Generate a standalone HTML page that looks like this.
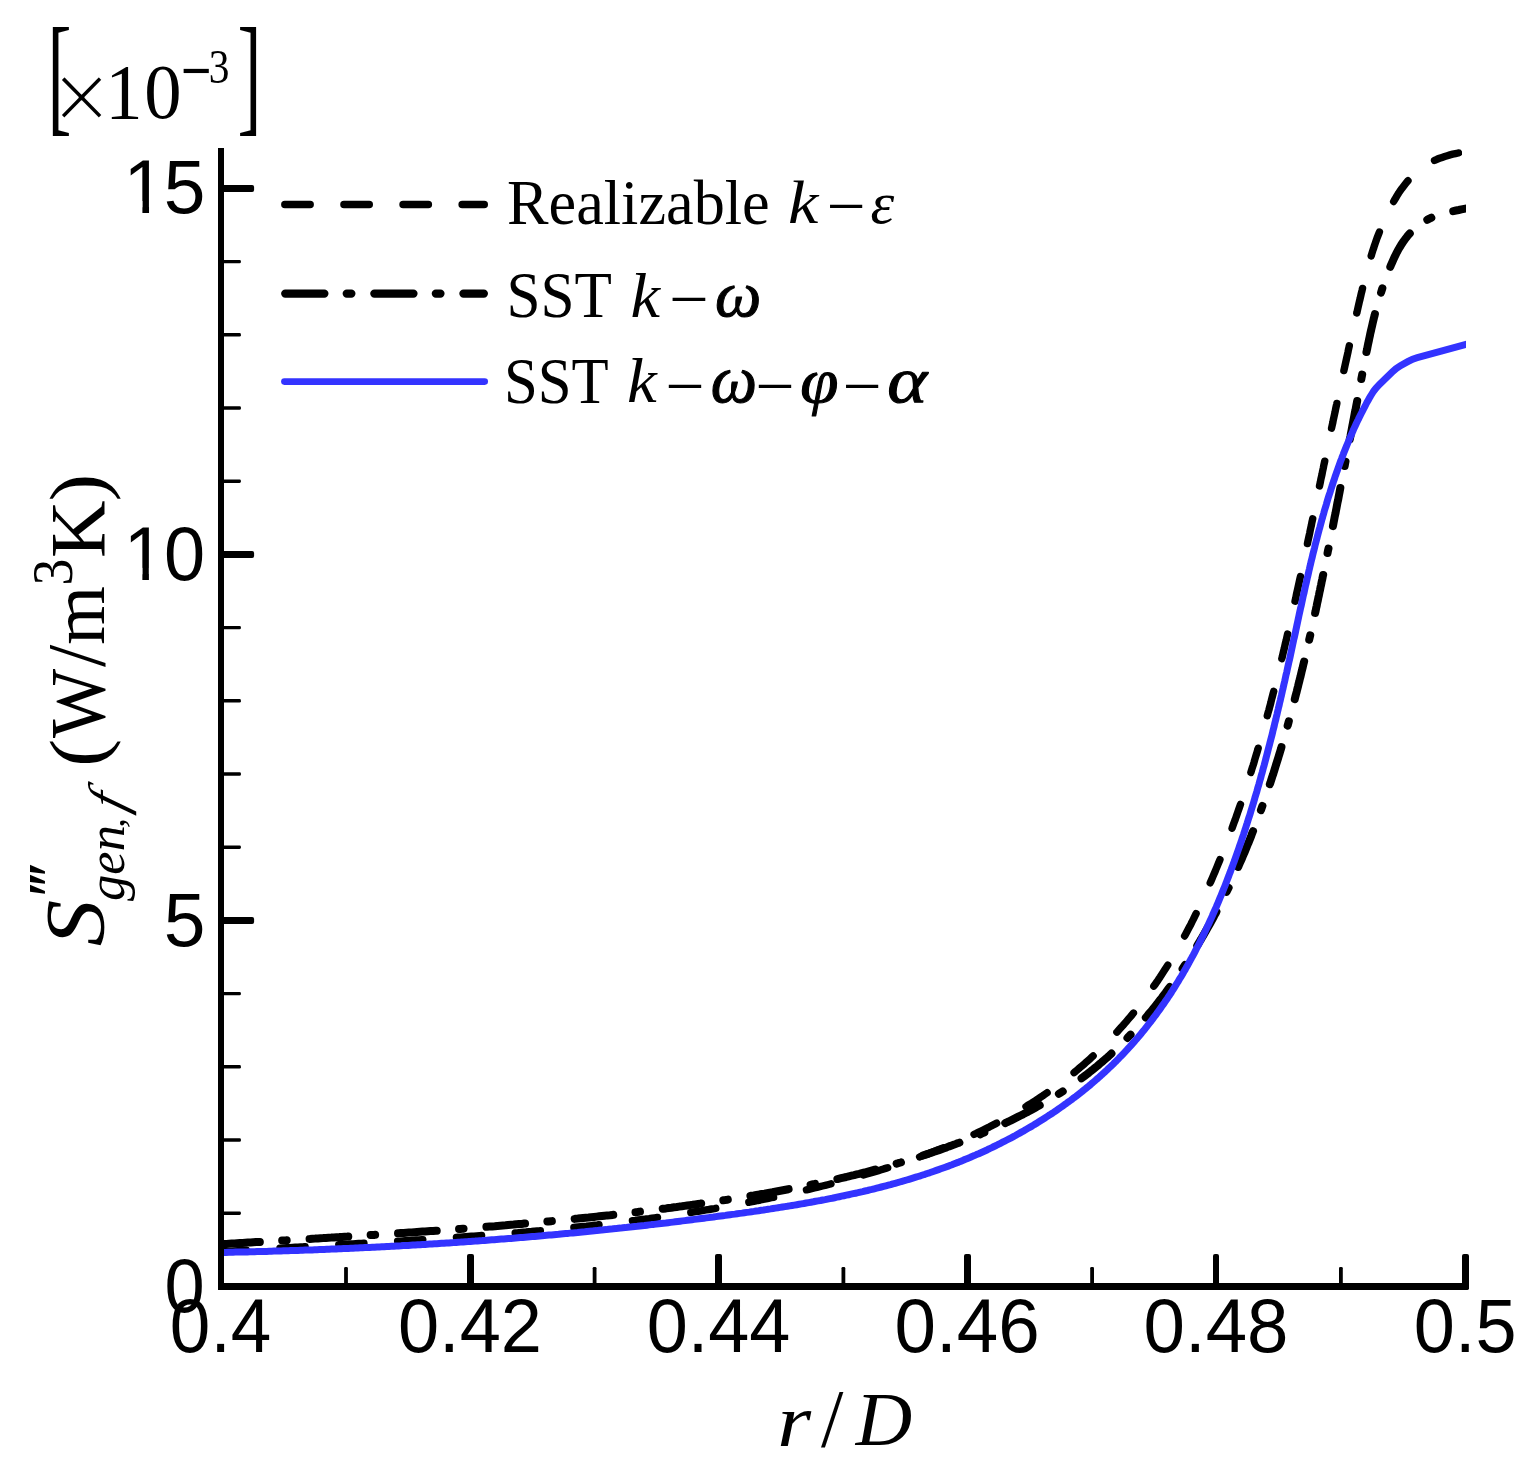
<!DOCTYPE html>
<html lang="en"><head><meta charset="utf-8"><title>Entropy generation chart</title>
<style>html,body{margin:0;padding:0;background:#fff;overflow:hidden}svg{display:block}</style></head>
<body>
<svg width="1535" height="1469" viewBox="0 0 1535 1469">
<rect width="1535" height="1469" fill="#fff"/>
<defs><clipPath id="cpA"><rect x="219" y="100" width="1246.9" height="1200"/></clipPath><clipPath id="cpB"><rect x="219" y="100" width="1243" height="1200"/></clipPath></defs>
<g fill="none" stroke-linecap="round" stroke-linejoin="round">
<path clip-path="url(#cpB)" d="M221.1,1251.9 L221.1,1251.9 L223.9,1251.7 L226.6,1251.6 L229.4,1251.4 L232.1,1251.2 L234.9,1251.0 L237.6,1250.8 L240.3,1250.6 L243.1,1250.5 L245.8,1250.3 L248.6,1250.1 L251.3,1249.9 L254.1,1249.8 L256.8,1249.6 L259.6,1249.4 L262.3,1249.2 L265.1,1249.1 L267.8,1248.9 L270.6,1248.7 L273.3,1248.6 L276.1,1248.4 L278.8,1248.2 L281.6,1248.1 L284.3,1247.9 L287.1,1247.7 L289.8,1247.6 L292.6,1247.4 L295.3,1247.2 L298.1,1247.1 L300.8,1246.9 L303.6,1246.8 L306.3,1246.6 L309.1,1246.4 L311.8,1246.3 L314.6,1246.1 L317.3,1245.9 L320.1,1245.8 L322.8,1245.6 L325.6,1245.5 L328.3,1245.3 L331.1,1245.1 L333.8,1245.0 L336.6,1244.8 L339.3,1244.7 L342.1,1244.5 L344.8,1244.3 L347.6,1244.2 L350.3,1244.0 L353.1,1243.9 L355.8,1243.7 L358.6,1243.5 L361.3,1243.4 L364.1,1243.2 L366.8,1243.0 L369.6,1242.9 L372.3,1242.7 L375.1,1242.6 L377.8,1242.4 L380.6,1242.2 L383.3,1242.1 L386.1,1241.9 L388.8,1241.7 L391.6,1241.6 L394.3,1241.4 L397.1,1241.2 L399.8,1241.1 L402.6,1240.9 L405.3,1240.7 L408.1,1240.6 L410.8,1240.4 L413.6,1240.2 L416.3,1240.0 L419.1,1239.9 L421.8,1239.7 L424.6,1239.5 L427.3,1239.3 L430.1,1239.2 L432.8,1239.0 L435.6,1238.8 L438.3,1238.6 L441.1,1238.4 L443.8,1238.2 L446.5,1238.1 L449.3,1237.9 L452.0,1237.7 L454.8,1237.5 L457.5,1237.3 L460.3,1237.1 L463.0,1236.9 L465.8,1236.7 L468.5,1236.5 L471.3,1236.3 L474.0,1236.1 L476.8,1235.9 L479.5,1235.7 L482.2,1235.5 L485.0,1235.3 L487.7,1235.1 L490.5,1234.9 L493.2,1234.7 L496.0,1234.5 L498.7,1234.2 L501.5,1234.0 L504.2,1233.8 L506.9,1233.6 L509.7,1233.4 L512.4,1233.1 L515.2,1232.9 L517.9,1232.7 L520.6,1232.4 L523.4,1232.2 L526.1,1232.0 L528.9,1231.7 L531.6,1231.5 L534.4,1231.2 L537.1,1231.0 L539.8,1230.8 L542.6,1230.5 L545.3,1230.3 L548.1,1230.0 L550.8,1229.7 L553.5,1229.5 L556.3,1229.2 L559.0,1229.0 L561.7,1228.7 L564.5,1228.4 L567.2,1228.1 L569.9,1227.9 L572.7,1227.6 L575.4,1227.3 L578.2,1227.0 L580.9,1226.7 L583.6,1226.4 L586.4,1226.2 L589.1,1225.9 L591.8,1225.6 L594.6,1225.3 L597.3,1225.0 L600.0,1224.6 L602.8,1224.3 L605.5,1224.0 L608.2,1223.7 L610.9,1223.4 L613.7,1223.1 L616.4,1222.7 L619.1,1222.4 L621.9,1222.1 L624.6,1221.7 L627.3,1221.4 L630.0,1221.1 L632.8,1220.7 L635.5,1220.4 L638.2,1220.0 L641.0,1219.6 L643.7,1219.3 L646.4,1218.9 L649.1,1218.6 L651.9,1218.2 L654.6,1217.8 L657.3,1217.4 L660.0,1217.0 L662.7,1216.7 L665.5,1216.3 L668.2,1215.9 L670.9,1215.5 L673.6,1215.1 L676.4,1214.7 L679.1,1214.3 L681.8,1213.9 L684.5,1213.4 L687.2,1213.0 L689.9,1212.6 L692.7,1212.2 L695.4,1211.7 L698.1,1211.3 L700.8,1210.8 L703.5,1210.4 L706.2,1209.9 L708.9,1209.5 L711.7,1209.0 L714.4,1208.6 L717.1,1208.1 L719.8,1207.6 L722.5,1207.1 L725.2,1206.7 L727.9,1206.2 L730.6,1205.7 L733.3,1205.2 L736.1,1204.7 L738.8,1204.2 L741.5,1203.7 L744.2,1203.2 L746.9,1202.6 L749.6,1202.1 L752.3,1201.6 L755.0,1201.1 L757.7,1200.5 L760.4,1200.0 L763.1,1199.4 L765.8,1198.9 L768.5,1198.3 L771.2,1197.7 L773.9,1197.2 L776.6,1196.6 L779.3,1196.0 L782.0,1195.4 L784.7,1194.9 L787.4,1194.3 L790.1,1193.7 L792.8,1193.1 L795.5,1192.4 L798.2,1191.8 L800.9,1191.2 L803.5,1190.6 L806.2,1189.9 L808.9,1189.3 L811.6,1188.7 L814.3,1188.0 L817.0,1187.4 L819.7,1186.7 L822.4,1186.0 L825.1,1185.4 L827.7,1184.7 L830.4,1184.0 L833.1,1183.3 L835.8,1182.6 L838.5,1181.9 L841.2,1181.2 L843.8,1180.5 L846.5,1179.8 L849.2,1179.0 L851.9,1178.3 L854.5,1177.6 L857.2,1176.8 L859.9,1176.1 L862.5,1175.3 L865.2,1174.5 L867.8,1173.8 L870.5,1173.0 L873.2,1172.2 L875.8,1171.4 L878.5,1170.6 L881.1,1169.8 L883.8,1168.9 L886.4,1168.1 L889.0,1167.3 L891.7,1166.4 L894.3,1165.6 L896.9,1164.7 L899.5,1163.8 L902.2,1163.0 L904.8,1162.1 L907.4,1161.2 L910.0,1160.3 L912.6,1159.4 L915.2,1158.4 L917.8,1157.5 L920.4,1156.6 L923.0,1155.6 L925.6,1154.7 L928.2,1153.7 L930.7,1152.7 L933.3,1151.7 L935.9,1150.7 L938.4,1149.7 L941.0,1148.7 L943.5,1147.7 L946.1,1146.6 L948.6,1145.6 L951.2,1144.5 L953.7,1143.5 L956.2,1142.4 L958.7,1141.3 L961.2,1140.2 L963.8,1139.1 L966.3,1138.0 L968.8,1136.8 L971.2,1135.7 L973.7,1134.5 L976.2,1133.4 L978.7,1132.2 L981.1,1131.0 L983.6,1129.8 L986.0,1128.6 L988.5,1127.4 L990.9,1126.1 L993.3,1124.9 L995.8,1123.6 L998.2,1122.4 L1000.6,1121.1 L1003.0,1119.8 L1005.4,1118.5 L1007.8,1117.2 L1010.2,1115.8 L1012.5,1114.5 L1014.9,1113.1 L1017.2,1111.8 L1019.6,1110.4 L1021.9,1109.0 L1024.3,1107.6 L1026.6,1106.2 L1028.9,1104.7 L1031.2,1103.3 L1033.5,1101.8 L1035.8,1100.4 L1038.1,1098.9 L1040.3,1097.4 L1042.6,1095.9 L1044.9,1094.3 L1047.1,1092.8 L1049.3,1091.2 L1051.6,1089.7 L1053.8,1088.1 L1056.0,1086.5 L1058.2,1084.9 L1060.4,1083.3 L1062.5,1081.6 L1064.7,1080.0 L1066.9,1078.3 L1069.0,1076.6 L1071.1,1074.9 L1073.3,1073.2 L1075.4,1071.5 L1077.5,1069.7 L1079.6,1067.9 L1081.7,1066.2 L1083.8,1064.4 L1085.8,1062.6 L1087.9,1060.7 L1089.9,1058.9 L1091.9,1057.1 L1094.0,1055.2 L1096.0,1053.3 L1098.0,1051.4 L1100.0,1049.5 L1101.9,1047.6 L1103.9,1045.6 L1105.8,1043.7 L1107.8,1041.7 L1109.7,1039.7 L1111.6,1037.7 L1113.5,1035.7 L1115.4,1033.7 L1117.3,1031.7 L1119.2,1029.6 L1121.0,1027.6 L1122.9,1025.5 L1124.7,1023.4 L1126.5,1021.3 L1128.3,1019.2 L1130.1,1017.1 L1131.9,1015.0 L1133.6,1012.8 L1135.4,1010.7 L1137.1,1008.5 L1138.9,1006.3 L1140.6,1004.1 L1142.3,1001.9 L1144.0,999.7 L1145.6,997.5 L1147.3,995.3 L1148.9,993.0 L1150.6,990.8 L1152.2,988.5 L1153.8,986.2 L1155.4,984.0 L1157.0,981.7 L1158.5,979.4 L1160.1,977.1 L1161.6,974.8 L1163.1,972.4 L1164.6,970.1 L1166.1,967.8 L1167.6,965.4 L1169.1,963.1 L1170.5,960.7 L1172.0,958.3 L1173.4,955.9 L1174.8,953.5 L1176.2,951.1 L1177.6,948.7 L1178.9,946.3 L1180.3,943.9 L1181.7,941.5 L1183.0,939.1 L1184.3,936.6 L1185.6,934.2 L1186.9,931.7 L1188.2,929.3 L1189.5,926.8 L1190.8,924.4 L1192.0,921.9 L1193.3,919.4 L1194.5,916.9 L1195.7,914.4 L1196.9,911.9 L1198.1,909.4 L1199.3,906.9 L1200.5,904.4 L1201.7,901.9 L1202.9,899.4 L1204.0,896.9 L1205.2,894.4 L1206.3,891.9 L1207.4,889.3 L1208.5,886.8 L1209.6,884.3 L1210.7,881.7 L1211.8,879.2 L1212.9,876.6 L1214.0,874.1 L1215.1,871.5 L1216.1,869.0 L1217.2,866.4 L1218.2,863.9 L1219.3,861.3 L1220.3,858.8 L1221.3,856.2 L1222.4,853.7 L1223.4,851.1 L1224.4,848.5 L1225.4,846.0 L1226.4,843.4 L1227.3,840.8 L1228.3,838.2 L1229.3,835.7 L1230.2,833.1 L1231.2,830.5 L1232.2,827.9 L1233.1,825.3 L1234.0,822.8 L1235.0,820.2 L1235.9,817.6 L1236.8,815.0 L1237.7,812.4 L1238.6,809.8 L1239.5,807.2 L1240.4,804.6 L1241.3,802.0 L1242.2,799.4 L1243.0,796.8 L1243.9,794.2 L1244.8,791.6 L1245.6,789.0 L1246.5,786.4 L1247.3,783.7 L1248.1,781.1 L1249.0,778.5 L1249.8,775.9 L1250.6,773.3 L1251.4,770.7 L1252.2,768.0 L1253.1,765.4 L1253.9,762.8 L1254.6,760.2 L1255.4,757.5 L1256.2,754.9 L1257.0,752.3 L1257.8,749.6 L1258.5,747.0 L1259.3,744.4 L1260.1,741.7 L1260.8,739.1 L1261.6,736.4 L1262.3,733.8 L1263.1,731.2 L1263.8,728.5 L1264.5,725.9 L1265.3,723.2 L1266.0,720.6 L1266.7,717.9 L1267.4,715.3 L1268.1,712.6 L1268.9,710.0 L1269.6,707.3 L1270.3,704.7 L1271.0,702.0 L1271.6,699.4 L1272.3,696.7 L1273.0,694.0 L1273.7,691.4 L1274.4,688.7 L1275.1,686.1 L1275.7,683.4 L1276.4,680.7 L1277.1,678.1 L1277.7,675.4 L1278.4,672.7 L1279.0,670.1 L1279.7,667.4 L1280.3,664.7 L1281.0,662.1 L1281.6,659.4 L1282.3,656.7 L1282.9,654.0 L1283.5,651.4 L1284.2,648.7 L1284.8,646.0 L1285.4,643.3 L1286.1,640.7 L1286.7,638.0 L1287.3,635.3 L1287.9,632.6 L1288.5,630.0 L1289.1,627.3 L1289.8,624.6 L1290.4,621.9 L1291.0,619.2 L1291.6,616.6 L1292.2,613.9 L1292.8,611.2 L1293.4,608.5 L1294.0,605.8 L1294.6,603.1 L1295.2,600.4 L1295.8,597.8 L1296.3,595.1 L1296.9,592.4 L1297.5,589.7 L1298.1,587.0 L1298.7,584.3 L1299.3,581.6 L1299.9,578.9 L1300.5,576.3 L1301.0,573.6 L1301.6,570.9 L1302.2,568.2 L1302.8,565.5 L1303.4,562.8 L1303.9,560.1 L1304.5,557.4 L1305.1,554.7 L1305.7,552.0 L1306.2,549.3 L1306.8,546.6 L1307.4,543.9 L1307.9,541.3 L1308.5,538.6 L1309.1,535.9 L1309.7,533.2 L1310.2,530.5 L1310.8,527.8 L1311.4,525.1 L1311.9,522.4 L1312.5,519.7 L1313.1,517.0 L1313.6,514.3 L1314.2,511.6 L1314.7,508.9 L1315.3,506.2 L1315.9,503.5 L1316.4,500.8 L1317.0,498.1 L1317.6,495.4 L1318.1,492.7 L1318.7,490.0 L1319.2,487.3 L1319.8,484.6 L1320.4,481.9 L1320.9,479.2 L1321.5,476.6 L1322.1,473.9 L1322.6,471.2 L1323.2,468.5 L1323.7,465.8 L1324.3,463.1 L1324.9,460.4 L1325.4,457.7 L1326.0,455.0 L1326.6,452.3 L1327.1,449.6 L1327.7,446.9 L1328.2,444.2 L1328.8,441.5 L1329.4,438.8 L1329.9,436.1 L1330.5,433.4 L1331.1,430.7 L1331.6,428.0 L1332.2,425.3 L1332.8,422.6 L1333.3,419.9 L1333.9,417.2 L1334.5,414.5 L1335.1,411.8 L1335.6,409.1 L1336.2,406.4 L1336.8,403.7 L1337.3,401.0 L1337.9,398.3 L1338.5,395.6 L1339.1,392.9 L1339.6,390.2 L1340.2,387.6 L1340.8,384.9 L1341.4,382.2 L1342.0,379.5 L1342.6,376.8 L1343.1,374.1 L1343.7,371.4 L1344.3,368.7 L1344.9,366.0 L1345.5,363.3 L1346.1,360.6 L1346.7,357.9 L1347.3,355.2 L1347.9,352.5 L1348.4,349.9 L1349.0,347.2 L1349.6,344.5 L1350.2,341.8 L1350.8,339.1 L1351.4,336.4 L1352.1,333.7 L1352.7,331.0 L1353.3,328.3 L1353.9,325.6 L1354.5,323.0 L1355.1,320.3 L1355.7,317.6 L1356.3,314.9 L1357.0,312.2 L1357.6,309.5 L1358.2,306.8 L1358.8,304.2 L1359.4,301.5 L1360.1,298.8 L1360.7,296.1 L1361.3,293.4 L1362.0,290.7 L1362.6,288.1 L1363.3,285.4 L1363.9,282.7 L1364.6,280.0 L1365.3,277.4 L1366.0,274.7 L1366.7,272.1 L1367.4,269.4 L1368.1,266.7 L1368.8,264.1 L1369.6,261.4 L1370.3,258.8 L1371.1,256.2 L1371.9,253.5 L1372.7,250.9 L1373.6,248.3 L1374.4,245.7 L1375.3,243.1 L1376.2,240.5 L1377.1,237.9 L1378.1,235.3 L1379.1,232.8 L1380.1,230.2 L1381.1,227.6 L1382.1,225.1 L1383.2,222.6 L1384.3,220.0 L1385.5,217.5 L1386.6,215.0 L1387.8,212.5 L1389.1,210.0 L1390.3,207.5 L1391.6,205.1 L1393.0,202.6 L1394.4,200.2 L1395.8,197.8 L1397.2,195.4 L1398.7,193.0 L1400.3,190.7 L1401.9,188.4 L1403.6,186.2 L1405.3,184.0 L1407.0,181.9 L1408.8,179.8 L1410.7,177.8 L1412.6,175.9 L1414.6,174.0 L1416.6,172.2 L1418.7,170.5 L1420.8,168.8 L1422.9,167.2 L1425.2,165.7 L1427.4,164.2 L1429.8,162.9 L1432.1,161.6 L1434.5,160.4 L1437.0,159.3 L1439.5,158.3 L1442.1,157.4 L1444.7,156.5 L1447.3,155.7 L1450.0,154.9 L1452.7,154.2 L1455.5,153.6 L1458.3,153.0 L1461.0,152.4 L1463.9,151.9 L1466.7,151.4 L1469.6,150.9 L1472.4,150.4" stroke="#000" stroke-width="7.4" stroke-dasharray="25.25 33.7"/>
<path clip-path="url(#cpA)" d="M221.1,1244.3 L223.8,1244.1 L226.5,1244.0 L229.1,1243.8 L231.8,1243.6 L234.5,1243.5 L237.2,1243.3 L239.9,1243.1 L242.6,1243.0 L245.3,1242.8 L247.9,1242.6 L250.6,1242.5 L253.3,1242.3 L256.0,1242.1 L258.7,1242.0 L261.4,1241.8 L264.1,1241.7 L266.7,1241.5 L269.4,1241.3 L272.1,1241.2 L274.8,1241.0 L277.5,1240.8 L280.2,1240.7 L282.9,1240.5 L285.5,1240.4 L288.2,1240.2 L290.9,1240.0 L293.6,1239.9 L296.3,1239.7 L299.0,1239.5 L301.7,1239.4 L304.3,1239.2 L307.0,1239.0 L309.7,1238.9 L312.4,1238.7 L315.1,1238.6 L317.8,1238.4 L320.5,1238.2 L323.1,1238.1 L325.8,1237.9 L328.5,1237.7 L331.2,1237.6 L333.9,1237.4 L336.6,1237.2 L339.3,1237.1 L341.9,1236.9 L344.6,1236.7 L347.3,1236.6 L350.0,1236.4 L352.7,1236.2 L355.4,1236.1 L358.0,1235.9 L360.7,1235.7 L363.4,1235.5 L366.1,1235.4 L368.8,1235.2 L371.5,1235.0 L374.2,1234.9 L376.8,1234.7 L379.5,1234.5 L382.2,1234.3 L384.9,1234.2 L387.6,1234.0 L390.3,1233.8 L392.9,1233.6 L395.6,1233.4 L398.3,1233.3 L401.0,1233.1 L403.7,1232.9 L406.4,1232.7 L409.0,1232.5 L411.7,1232.4 L414.4,1232.2 L417.1,1232.0 L419.8,1231.8 L422.5,1231.6 L425.1,1231.4 L427.8,1231.2 L430.5,1231.0 L433.2,1230.9 L435.9,1230.7 L438.5,1230.5 L441.2,1230.3 L443.9,1230.1 L446.6,1229.9 L449.3,1229.7 L452.0,1229.5 L454.6,1229.3 L457.3,1229.1 L460.0,1228.9 L462.7,1228.7 L465.4,1228.5 L468.0,1228.3 L470.7,1228.1 L473.4,1227.9 L476.1,1227.7 L478.8,1227.4 L481.4,1227.2 L484.1,1227.0 L486.8,1226.8 L489.5,1226.6 L492.2,1226.4 L494.8,1226.2 L497.5,1225.9 L500.2,1225.7 L502.9,1225.5 L505.6,1225.3 L508.2,1225.0 L510.9,1224.8 L513.6,1224.6 L516.3,1224.3 L519.0,1224.1 L521.6,1223.9 L524.3,1223.6 L527.0,1223.4 L529.7,1223.2 L532.3,1222.9 L535.0,1222.7 L537.7,1222.4 L540.4,1222.2 L543.1,1222.0 L545.7,1221.7 L548.4,1221.5 L551.1,1221.2 L553.8,1220.9 L556.4,1220.7 L559.1,1220.4 L561.8,1220.2 L564.5,1219.9 L567.1,1219.6 L569.8,1219.4 L572.5,1219.1 L575.2,1218.8 L577.8,1218.6 L580.5,1218.3 L583.2,1218.0 L585.9,1217.7 L588.5,1217.5 L591.2,1217.2 L593.9,1216.9 L596.5,1216.6 L599.2,1216.3 L601.9,1216.0 L604.6,1215.7 L607.2,1215.4 L609.9,1215.2 L612.6,1214.9 L615.3,1214.6 L617.9,1214.3 L620.6,1213.9 L623.3,1213.6 L625.9,1213.3 L628.6,1213.0 L631.3,1212.7 L634.0,1212.4 L636.6,1212.1 L639.3,1211.7 L642.0,1211.4 L644.6,1211.1 L647.3,1210.8 L650.0,1210.4 L652.6,1210.1 L655.3,1209.8 L658.0,1209.4 L660.6,1209.1 L663.3,1208.7 L666.0,1208.4 L668.6,1208.0 L671.3,1207.7 L674.0,1207.3 L676.6,1207.0 L679.3,1206.6 L682.0,1206.3 L684.6,1205.9 L687.3,1205.5 L690.0,1205.1 L692.6,1204.8 L695.3,1204.4 L698.0,1204.0 L700.6,1203.6 L703.3,1203.3 L706.0,1202.9 L708.6,1202.5 L711.3,1202.1 L713.9,1201.7 L716.6,1201.3 L719.3,1200.9 L721.9,1200.5 L724.6,1200.1 L727.3,1199.7 L729.9,1199.2 L732.6,1198.8 L735.2,1198.4 L737.9,1198.0 L740.6,1197.6 L743.2,1197.1 L745.9,1196.7 L748.5,1196.3 L751.2,1195.8 L753.8,1195.4 L756.5,1194.9 L759.2,1194.5 L761.8,1194.0 L764.5,1193.6 L767.1,1193.1 L769.8,1192.6 L772.4,1192.2 L775.1,1191.7 L777.7,1191.2 L780.4,1190.7 L783.0,1190.2 L785.7,1189.7 L788.3,1189.2 L791.0,1188.7 L793.6,1188.2 L796.3,1187.7 L798.9,1187.2 L801.5,1186.7 L804.2,1186.1 L806.8,1185.6 L809.5,1185.1 L812.1,1184.5 L814.7,1184.0 L817.4,1183.4 L820.0,1182.9 L822.6,1182.3 L825.3,1181.7 L827.9,1181.2 L830.5,1180.6 L833.1,1180.0 L835.8,1179.4 L838.4,1178.8 L841.0,1178.2 L843.6,1177.6 L846.2,1177.0 L848.8,1176.3 L851.5,1175.7 L854.1,1175.1 L856.7,1174.4 L859.3,1173.8 L861.9,1173.1 L864.5,1172.5 L867.1,1171.8 L869.7,1171.1 L872.3,1170.4 L874.9,1169.7 L877.5,1169.0 L880.1,1168.3 L882.7,1167.6 L885.3,1166.9 L887.8,1166.2 L890.4,1165.5 L893.0,1164.7 L895.6,1164.0 L898.2,1163.2 L900.7,1162.5 L903.3,1161.7 L905.9,1160.9 L908.4,1160.1 L911.0,1159.3 L913.6,1158.5 L916.1,1157.7 L918.7,1156.9 L921.2,1156.1 L923.8,1155.2 L926.3,1154.4 L928.9,1153.6 L931.4,1152.7 L934.0,1151.8 L936.5,1150.9 L939.0,1150.1 L941.6,1149.2 L944.1,1148.3 L946.6,1147.4 L949.1,1146.4 L951.7,1145.5 L954.2,1144.6 L956.7,1143.6 L959.2,1142.7 L961.7,1141.7 L964.2,1140.7 L966.7,1139.7 L969.2,1138.7 L971.7,1137.7 L974.2,1136.7 L976.7,1135.7 L979.2,1134.7 L981.6,1133.6 L984.1,1132.6 L986.6,1131.5 L989.1,1130.4 L991.5,1129.4 L994.0,1128.3 L996.4,1127.2 L998.9,1126.0 L1001.3,1124.9 L1003.8,1123.8 L1006.2,1122.6 L1008.7,1121.5 L1011.1,1120.3 L1013.5,1119.1 L1015.9,1117.9 L1018.3,1116.7 L1020.7,1115.5 L1023.1,1114.3 L1025.5,1113.0 L1027.9,1111.8 L1030.3,1110.5 L1032.6,1109.2 L1035.0,1107.9 L1037.3,1106.6 L1039.7,1105.3 L1042.0,1104.0 L1044.4,1102.6 L1046.7,1101.3 L1049.0,1099.9 L1051.3,1098.5 L1053.6,1097.1 L1055.9,1095.7 L1058.1,1094.3 L1060.4,1092.8 L1062.7,1091.4 L1064.9,1089.9 L1067.1,1088.4 L1069.4,1086.9 L1071.6,1085.4 L1073.8,1083.9 L1076.0,1082.3 L1078.2,1080.7 L1080.3,1079.2 L1082.5,1077.6 L1084.6,1076.0 L1086.8,1074.3 L1088.9,1072.7 L1091.0,1071.0 L1093.1,1069.4 L1095.2,1067.7 L1097.3,1066.0 L1099.3,1064.2 L1101.4,1062.5 L1103.4,1060.7 L1105.4,1059.0 L1107.5,1057.2 L1109.5,1055.4 L1111.4,1053.6 L1113.4,1051.7 L1115.4,1049.9 L1117.3,1048.0 L1119.3,1046.1 L1121.2,1044.2 L1123.1,1042.3 L1125.0,1040.4 L1126.9,1038.5 L1128.7,1036.5 L1130.6,1034.6 L1132.5,1032.6 L1134.3,1030.6 L1136.1,1028.6 L1137.9,1026.6 L1139.7,1024.6 L1141.5,1022.6 L1143.3,1020.5 L1145.1,1018.5 L1146.8,1016.4 L1148.5,1014.3 L1150.3,1012.3 L1152.0,1010.2 L1153.7,1008.1 L1155.4,1005.9 L1157.1,1003.8 L1158.7,1001.7 L1160.4,999.5 L1162.1,997.4 L1163.7,995.2 L1165.3,993.1 L1166.9,990.9 L1168.5,988.7 L1170.1,986.5 L1171.7,984.3 L1173.3,982.1 L1174.8,979.9 L1176.4,977.7 L1177.9,975.5 L1179.5,973.3 L1181.0,971.0 L1182.5,968.8 L1184.0,966.5 L1185.4,964.3 L1186.9,962.0 L1188.4,959.8 L1189.8,957.5 L1191.3,955.3 L1192.7,953.0 L1194.1,950.7 L1195.5,948.4 L1196.9,946.1 L1198.3,943.8 L1199.7,941.5 L1201.1,939.2 L1202.4,936.9 L1203.8,934.6 L1205.1,932.3 L1206.4,930.0 L1207.8,927.6 L1209.1,925.3 L1210.4,923.0 L1211.7,920.6 L1213.0,918.3 L1214.2,915.9 L1215.5,913.6 L1216.7,911.2 L1218.0,908.9 L1219.2,906.5 L1220.4,904.1 L1221.7,901.7 L1222.9,899.3 L1224.1,897.0 L1225.3,894.6 L1226.4,892.2 L1227.6,889.8 L1228.8,887.4 L1229.9,884.9 L1231.1,882.5 L1232.2,880.1 L1233.3,877.7 L1234.4,875.2 L1235.6,872.8 L1236.7,870.4 L1237.8,867.9 L1238.8,865.5 L1239.9,863.0 L1241.0,860.6 L1242.1,858.1 L1243.1,855.6 L1244.2,853.2 L1245.2,850.7 L1246.2,848.2 L1247.2,845.7 L1248.3,843.2 L1249.3,840.7 L1250.3,838.2 L1251.3,835.7 L1252.2,833.2 L1253.2,830.7 L1254.2,828.2 L1255.2,825.7 L1256.1,823.2 L1257.1,820.6 L1258.0,818.1 L1258.9,815.6 L1259.9,813.0 L1260.8,810.5 L1261.7,807.9 L1262.6,805.4 L1263.5,802.9 L1264.4,800.3 L1265.3,797.8 L1266.2,795.2 L1267.0,792.6 L1267.9,790.1 L1268.8,787.5 L1269.6,784.9 L1270.5,782.4 L1271.3,779.8 L1272.1,777.2 L1273.0,774.7 L1273.8,772.1 L1274.6,769.5 L1275.4,766.9 L1276.2,764.3 L1277.0,761.8 L1277.8,759.2 L1278.6,756.6 L1279.4,754.0 L1280.2,751.4 L1281.0,748.8 L1281.7,746.2 L1282.5,743.6 L1283.2,741.0 L1284.0,738.5 L1284.7,735.9 L1285.5,733.3 L1286.2,730.7 L1286.9,728.1 L1287.7,725.5 L1288.4,722.9 L1289.1,720.3 L1289.8,717.7 L1290.5,715.1 L1291.2,712.5 L1291.9,709.9 L1292.6,707.3 L1293.3,704.7 L1294.0,702.1 L1294.7,699.5 L1295.3,696.9 L1296.0,694.3 L1296.7,691.7 L1297.3,689.1 L1298.0,686.5 L1298.6,683.9 L1299.3,681.3 L1299.9,678.7 L1300.6,676.1 L1301.2,673.5 L1301.8,670.9 L1302.5,668.3 L1303.1,665.7 L1303.7,663.1 L1304.4,660.5 L1305.0,657.9 L1305.6,655.3 L1306.2,652.7 L1306.8,650.1 L1307.4,647.5 L1308.0,644.9 L1308.6,642.3 L1309.2,639.7 L1309.8,637.1 L1310.4,634.5 L1311.0,631.9 L1311.5,629.3 L1312.1,626.7 L1312.7,624.0 L1313.3,621.4 L1313.9,618.8 L1314.4,616.2 L1315.0,613.6 L1315.6,611.0 L1316.1,608.4 L1316.7,605.8 L1317.2,603.1 L1317.8,600.5 L1318.3,597.9 L1318.9,595.3 L1319.4,592.7 L1320.0,590.1 L1320.5,587.4 L1321.1,584.8 L1321.6,582.2 L1322.2,579.6 L1322.7,576.9 L1323.3,574.3 L1323.8,571.7 L1324.3,569.1 L1324.9,566.4 L1325.4,563.8 L1325.9,561.2 L1326.5,558.5 L1327.0,555.9 L1327.5,553.3 L1328.0,550.6 L1328.6,548.0 L1329.1,545.4 L1329.6,542.7 L1330.1,540.1 L1330.7,537.5 L1331.2,534.8 L1331.7,532.2 L1332.2,529.5 L1332.8,526.9 L1333.3,524.2 L1333.8,521.6 L1334.3,519.0 L1334.8,516.3 L1335.4,513.7 L1335.9,511.0 L1336.4,508.4 L1336.9,505.7 L1337.4,503.0 L1338.0,500.4 L1338.5,497.7 L1339.0,495.1 L1339.5,492.4 L1340.0,489.8 L1340.5,487.1 L1341.1,484.4 L1341.6,481.8 L1342.1,479.1 L1342.6,476.5 L1343.1,473.8 L1343.7,471.1 L1344.2,468.5 L1344.7,465.8 L1345.2,463.1 L1345.7,460.5 L1346.2,457.8 L1346.8,455.1 L1347.3,452.5 L1347.8,449.8 L1348.3,447.1 L1348.8,444.5 L1349.3,441.8 L1349.8,439.2 L1350.4,436.5 L1350.9,433.8 L1351.4,431.2 L1351.9,428.5 L1352.4,425.8 L1352.9,423.2 L1353.4,420.5 L1353.9,417.9 L1354.4,415.2 L1354.9,412.5 L1355.5,409.9 L1356.0,407.2 L1356.5,404.6 L1357.0,401.9 L1357.5,399.3 L1358.0,396.6 L1358.5,394.0 L1359.0,391.3 L1359.5,388.7 L1360.0,386.0 L1360.5,383.4 L1361.0,380.8 L1361.5,378.1 L1362.0,375.5 L1362.5,372.8 L1363.0,370.2 L1363.5,367.6 L1364.0,364.9 L1364.5,362.3 L1365.0,359.7 L1365.5,357.1 L1366.0,354.4 L1366.5,351.8 L1367.1,349.2 L1367.6,346.6 L1368.1,344.0 L1368.7,341.4 L1369.2,338.8 L1369.8,336.2 L1370.3,333.6 L1370.9,331.0 L1371.5,328.4 L1372.1,325.8 L1372.7,323.2 L1373.3,320.6 L1373.9,318.0 L1374.6,315.4 L1375.2,312.9 L1375.9,310.3 L1376.6,307.7 L1377.3,305.1 L1378.0,302.6 L1378.8,300.0 L1379.5,297.5 L1380.3,294.9 L1381.1,292.4 L1381.9,289.8 L1382.7,287.3 L1383.6,284.7 L1384.4,282.2 L1385.3,279.7 L1386.3,277.1 L1387.2,274.6 L1388.2,272.1 L1389.2,269.6 L1390.2,267.1 L1391.2,264.6 L1392.3,262.1 L1393.4,259.6 L1394.5,257.1 L1395.7,254.7 L1396.9,252.3 L1398.2,249.9 L1399.5,247.6 L1400.9,245.3 L1402.4,243.0 L1403.9,240.8 L1405.5,238.7 L1407.1,236.6 L1408.8,234.5 L1410.6,232.6 L1412.5,230.7 L1414.4,228.8 L1416.4,227.1 L1418.5,225.4 L1420.7,223.8 L1422.9,222.3 L1425.2,220.9 L1427.5,219.6 L1429.9,218.4 L1432.4,217.3 L1434.9,216.3 L1437.4,215.4 L1440.0,214.5 L1442.6,213.7 L1445.2,213.0 L1447.9,212.3 L1450.6,211.7 L1453.3,211.1 L1456.0,210.5 L1458.7,210.0 L1461.4,209.4 L1464.1,208.9 L1466.8,208.4 L1469.4,207.9 L1472.1,207.3" stroke="#000" stroke-width="8.0" stroke-dasharray="38.8 22.4 4.5 22.94"/>
<path clip-path="url(#cpA)" d="M221.1,1252.5 L223.3,1252.4 L225.7,1252.4 L228.2,1252.3 L230.6,1252.3 L233.0,1252.2 L235.4,1252.1 L237.8,1252.1 L240.2,1252.0 L242.6,1252.0 L245.0,1251.9 L247.4,1251.9 L249.8,1251.8 L252.2,1251.7 L254.6,1251.7 L257.0,1251.6 L259.4,1251.6 L261.9,1251.5 L264.3,1251.4 L266.7,1251.4 L269.1,1251.3 L271.5,1251.2 L273.9,1251.1 L276.3,1251.1 L278.7,1251.0 L281.1,1250.9 L283.5,1250.8 L285.9,1250.8 L288.3,1250.7 L290.7,1250.6 L293.1,1250.5 L295.5,1250.5 L297.9,1250.4 L300.3,1250.3 L302.7,1250.2 L305.1,1250.1 L307.5,1250.0 L309.9,1249.9 L312.3,1249.9 L314.7,1249.8 L317.1,1249.7 L319.5,1249.6 L321.9,1249.5 L324.3,1249.4 L326.7,1249.3 L329.1,1249.2 L331.5,1249.1 L333.9,1249.0 L336.3,1248.9 L338.7,1248.8 L341.1,1248.7 L343.5,1248.6 L345.9,1248.5 L348.3,1248.4 L350.7,1248.3 L353.1,1248.2 L355.5,1248.1 L357.9,1248.0 L360.3,1247.8 L362.6,1247.7 L365.0,1247.6 L367.4,1247.5 L369.8,1247.4 L372.2,1247.3 L374.6,1247.2 L377.0,1247.0 L379.4,1246.9 L381.8,1246.8 L384.2,1246.7 L386.6,1246.5 L389.0,1246.4 L391.4,1246.3 L393.8,1246.2 L396.2,1246.0 L398.6,1245.9 L401.0,1245.8 L403.3,1245.6 L405.7,1245.5 L408.1,1245.4 L410.5,1245.2 L412.9,1245.1 L415.3,1245.0 L417.7,1244.8 L420.1,1244.7 L422.5,1244.5 L424.9,1244.4 L427.3,1244.2 L429.7,1244.1 L432.0,1244.0 L434.4,1243.8 L436.8,1243.7 L439.2,1243.5 L441.6,1243.3 L444.0,1243.2 L446.4,1243.0 L448.8,1242.9 L451.2,1242.7 L453.6,1242.6 L455.9,1242.4 L458.3,1242.2 L460.7,1242.1 L463.1,1241.9 L465.5,1241.7 L467.9,1241.6 L470.3,1241.4 L472.7,1241.2 L475.1,1241.1 L477.4,1240.9 L479.8,1240.7 L482.2,1240.6 L484.6,1240.4 L487.0,1240.2 L489.4,1240.0 L491.8,1239.8 L494.2,1239.7 L496.5,1239.5 L498.9,1239.3 L501.3,1239.1 L503.7,1238.9 L506.1,1238.7 L508.5,1238.5 L510.9,1238.4 L513.2,1238.2 L515.6,1238.0 L518.0,1237.8 L520.4,1237.6 L522.8,1237.4 L525.2,1237.2 L527.6,1237.0 L529.9,1236.8 L532.3,1236.6 L534.7,1236.4 L537.1,1236.2 L539.5,1236.0 L541.9,1235.8 L544.3,1235.5 L546.6,1235.3 L549.0,1235.1 L551.4,1234.9 L553.8,1234.7 L556.2,1234.5 L558.6,1234.3 L560.9,1234.0 L563.3,1233.8 L565.7,1233.6 L568.1,1233.4 L570.5,1233.1 L572.9,1232.9 L575.3,1232.7 L577.6,1232.5 L580.0,1232.2 L582.4,1232.0 L584.8,1231.8 L587.2,1231.5 L589.6,1231.3 L591.9,1231.1 L594.3,1230.8 L596.7,1230.6 L599.1,1230.3 L601.5,1230.1 L603.9,1229.8 L606.2,1229.6 L608.6,1229.3 L611.0,1229.1 L613.4,1228.8 L615.8,1228.6 L618.2,1228.3 L620.5,1228.1 L622.9,1227.8 L625.3,1227.6 L627.7,1227.3 L630.1,1227.1 L632.5,1226.8 L634.8,1226.5 L637.2,1226.3 L639.6,1226.0 L642.0,1225.7 L644.4,1225.5 L646.8,1225.2 L649.1,1224.9 L651.5,1224.6 L653.9,1224.4 L656.3,1224.1 L658.7,1223.8 L661.0,1223.5 L663.4,1223.2 L665.8,1223.0 L668.2,1222.7 L670.6,1222.4 L673.0,1222.1 L675.3,1221.8 L677.7,1221.5 L680.1,1221.2 L682.5,1220.9 L684.9,1220.6 L687.3,1220.3 L689.6,1220.0 L692.0,1219.7 L694.4,1219.4 L696.8,1219.1 L699.2,1218.8 L701.5,1218.5 L703.9,1218.2 L706.3,1217.9 L708.7,1217.6 L711.1,1217.3 L713.5,1217.0 L715.8,1216.6 L718.2,1216.3 L720.6,1216.0 L723.0,1215.7 L725.4,1215.4 L727.8,1215.0 L730.1,1214.7 L732.5,1214.4 L734.9,1214.1 L737.3,1213.7 L739.7,1213.4 L742.0,1213.1 L744.4,1212.7 L746.8,1212.4 L749.2,1212.1 L751.6,1211.7 L754.0,1211.4 L756.3,1211.0 L758.7,1210.7 L761.1,1210.3 L763.5,1210.0 L765.9,1209.6 L768.2,1209.2 L770.6,1208.9 L773.0,1208.5 L775.4,1208.1 L777.8,1207.8 L780.1,1207.4 L782.5,1207.0 L784.9,1206.6 L787.3,1206.3 L789.6,1205.9 L792.0,1205.5 L794.4,1205.1 L796.8,1204.7 L799.1,1204.3 L801.5,1203.9 L803.9,1203.5 L806.2,1203.0 L808.6,1202.6 L811.0,1202.2 L813.3,1201.8 L815.7,1201.3 L818.1,1200.9 L820.4,1200.5 L822.8,1200.0 L825.1,1199.6 L827.5,1199.1 L829.9,1198.6 L832.2,1198.2 L834.6,1197.7 L836.9,1197.2 L839.3,1196.7 L841.6,1196.2 L844.0,1195.7 L846.3,1195.2 L848.7,1194.7 L851.0,1194.2 L853.3,1193.7 L855.7,1193.2 L858.0,1192.7 L860.4,1192.1 L862.7,1191.6 L865.0,1191.0 L867.4,1190.5 L869.7,1189.9 L872.0,1189.4 L874.3,1188.8 L876.7,1188.2 L879.0,1187.6 L881.3,1187.0 L883.6,1186.4 L885.9,1185.8 L888.3,1185.2 L890.6,1184.6 L892.9,1183.9 L895.2,1183.3 L897.5,1182.7 L899.8,1182.0 L902.1,1181.3 L904.4,1180.7 L906.7,1180.0 L909.0,1179.3 L911.3,1178.6 L913.6,1177.9 L915.8,1177.2 L918.1,1176.5 L920.4,1175.8 L922.7,1175.0 L925.0,1174.3 L927.2,1173.5 L929.5,1172.8 L931.8,1172.0 L934.0,1171.2 L936.3,1170.4 L938.6,1169.6 L940.8,1168.8 L943.1,1168.0 L945.3,1167.2 L947.6,1166.4 L949.8,1165.5 L952.0,1164.7 L954.3,1163.8 L956.5,1162.9 L958.8,1162.1 L961.0,1161.2 L963.2,1160.3 L965.4,1159.3 L967.6,1158.4 L969.9,1157.5 L972.1,1156.5 L974.3,1155.6 L976.5,1154.6 L978.7,1153.7 L980.9,1152.7 L983.1,1151.7 L985.3,1150.7 L987.5,1149.7 L989.6,1148.6 L991.8,1147.6 L994.0,1146.5 L996.2,1145.5 L998.3,1144.4 L1000.5,1143.3 L1002.6,1142.2 L1004.8,1141.1 L1006.9,1140.0 L1009.1,1138.9 L1011.2,1137.8 L1013.4,1136.6 L1015.5,1135.5 L1017.6,1134.3 L1019.7,1133.1 L1021.8,1131.9 L1023.9,1130.8 L1026.0,1129.5 L1028.1,1128.3 L1030.2,1127.1 L1032.3,1125.9 L1034.3,1124.6 L1036.4,1123.4 L1038.5,1122.1 L1040.5,1120.8 L1042.6,1119.5 L1044.6,1118.2 L1046.6,1116.9 L1048.6,1115.6 L1050.7,1114.3 L1052.7,1113.0 L1054.7,1111.6 L1056.6,1110.3 L1058.6,1108.9 L1060.6,1107.5 L1062.6,1106.1 L1064.5,1104.7 L1066.5,1103.3 L1068.4,1101.9 L1070.4,1100.5 L1072.3,1099.1 L1074.2,1097.6 L1076.1,1096.2 L1078.0,1094.7 L1079.9,1093.2 L1081.8,1091.7 L1083.6,1090.2 L1085.5,1088.7 L1087.3,1087.2 L1089.2,1085.7 L1091.0,1084.2 L1092.8,1082.6 L1094.6,1081.1 L1096.4,1079.5 L1098.2,1078.0 L1100.0,1076.4 L1101.7,1074.8 L1103.5,1073.2 L1105.2,1071.6 L1107.0,1070.0 L1108.7,1068.3 L1110.4,1066.7 L1112.1,1065.1 L1113.8,1063.4 L1115.5,1061.8 L1117.1,1060.1 L1118.8,1058.4 L1120.4,1056.7 L1122.1,1055.0 L1123.7,1053.3 L1125.3,1051.6 L1126.9,1049.9 L1128.5,1048.1 L1130.1,1046.4 L1131.7,1044.6 L1133.2,1042.9 L1134.8,1041.1 L1136.3,1039.3 L1137.9,1037.5 L1139.4,1035.7 L1140.9,1033.9 L1142.4,1032.1 L1143.9,1030.3 L1145.4,1028.4 L1146.8,1026.6 L1148.3,1024.7 L1149.7,1022.9 L1151.2,1021.0 L1152.6,1019.1 L1154.0,1017.2 L1155.4,1015.4 L1156.8,1013.4 L1158.2,1011.5 L1159.6,1009.6 L1161.0,1007.7 L1162.3,1005.7 L1163.7,1003.8 L1165.0,1001.8 L1166.3,999.9 L1167.7,997.9 L1169.0,995.9 L1170.3,994.0 L1171.6,992.0 L1172.8,990.0 L1174.1,988.0 L1175.4,985.9 L1176.6,983.9 L1177.9,981.9 L1179.1,979.8 L1180.3,977.8 L1181.6,975.8 L1182.8,973.7 L1184.0,971.6 L1185.2,969.6 L1186.3,967.5 L1187.5,965.4 L1188.7,963.3 L1189.8,961.2 L1191.0,959.1 L1192.1,957.0 L1193.3,954.9 L1194.4,952.8 L1195.5,950.6 L1196.6,948.5 L1197.7,946.4 L1198.8,944.2 L1199.9,942.1 L1201.0,939.9 L1202.0,937.8 L1203.1,935.6 L1204.1,933.5 L1205.2,931.3 L1206.2,929.1 L1207.2,926.9 L1208.3,924.7 L1209.3,922.5 L1210.3,920.3 L1211.3,918.1 L1212.3,915.9 L1213.2,913.7 L1214.2,911.5 L1215.2,909.3 L1216.2,907.1 L1217.1,904.9 L1218.1,902.6 L1219.0,900.4 L1219.9,898.2 L1220.9,895.9 L1221.8,893.7 L1222.7,891.4 L1223.6,889.2 L1224.5,887.0 L1225.4,884.7 L1226.3,882.4 L1227.1,880.2 L1228.0,877.9 L1228.9,875.7 L1229.7,873.4 L1230.6,871.1 L1231.4,868.9 L1232.3,866.6 L1233.1,864.3 L1234.0,862.0 L1234.8,859.7 L1235.6,857.5 L1236.4,855.2 L1237.2,852.9 L1238.0,850.6 L1238.8,848.3 L1239.6,846.0 L1240.4,843.8 L1241.2,841.5 L1241.9,839.2 L1242.7,836.9 L1243.5,834.6 L1244.2,832.3 L1245.0,830.0 L1245.7,827.7 L1246.4,825.4 L1247.2,823.1 L1247.9,820.8 L1248.6,818.5 L1249.4,816.2 L1250.1,813.9 L1250.8,811.6 L1251.5,809.3 L1252.2,807.0 L1252.9,804.7 L1253.6,802.4 L1254.3,800.1 L1254.9,797.8 L1255.6,795.5 L1256.3,793.2 L1257.0,790.9 L1257.6,788.6 L1258.3,786.2 L1259.0,783.9 L1259.6,781.6 L1260.3,779.3 L1260.9,777.0 L1261.5,774.7 L1262.2,772.4 L1262.8,770.1 L1263.4,767.7 L1264.1,765.4 L1264.7,763.1 L1265.3,760.8 L1265.9,758.5 L1266.5,756.2 L1267.1,753.8 L1267.7,751.5 L1268.3,749.2 L1268.9,746.9 L1269.5,744.6 L1270.1,742.2 L1270.7,739.9 L1271.3,737.6 L1271.9,735.3 L1272.5,732.9 L1273.0,730.6 L1273.6,728.3 L1274.2,726.0 L1274.7,723.6 L1275.3,721.3 L1275.9,719.0 L1276.4,716.6 L1277.0,714.3 L1277.5,712.0 L1278.1,709.6 L1278.6,707.3 L1279.2,705.0 L1279.7,702.6 L1280.3,700.3 L1280.8,698.0 L1281.4,695.6 L1281.9,693.3 L1282.4,691.0 L1283.0,688.6 L1283.5,686.3 L1284.0,684.0 L1284.6,681.6 L1285.1,679.3 L1285.6,676.9 L1286.1,674.6 L1286.7,672.3 L1287.2,669.9 L1287.7,667.6 L1288.2,665.2 L1288.7,662.9 L1289.3,660.5 L1289.8,658.2 L1290.3,655.9 L1290.8,653.5 L1291.3,651.2 L1291.8,648.8 L1292.3,646.5 L1292.8,644.1 L1293.3,641.8 L1293.8,639.4 L1294.4,637.1 L1294.9,634.7 L1295.4,632.4 L1295.9,630.0 L1296.4,627.7 L1296.9,625.3 L1297.4,623.0 L1297.9,620.6 L1298.4,618.3 L1298.9,615.9 L1299.4,613.6 L1299.9,611.2 L1300.4,608.9 L1301.0,606.5 L1301.5,604.2 L1302.0,601.8 L1302.5,599.5 L1303.0,597.1 L1303.5,594.8 L1304.1,592.5 L1304.6,590.1 L1305.1,587.8 L1305.6,585.4 L1306.2,583.1 L1306.7,580.7 L1307.2,578.4 L1307.8,576.0 L1308.3,573.7 L1308.8,571.4 L1309.4,569.0 L1309.9,566.7 L1310.5,564.4 L1311.0,562.0 L1311.6,559.7 L1312.2,557.4 L1312.7,555.0 L1313.3,552.7 L1313.9,550.4 L1314.5,548.0 L1315.0,545.7 L1315.6,543.4 L1316.2,541.1 L1316.8,538.8 L1317.4,536.4 L1318.0,534.1 L1318.6,531.8 L1319.2,529.5 L1319.9,527.2 L1320.5,524.9 L1321.1,522.6 L1321.7,520.3 L1322.4,518.0 L1323.0,515.7 L1323.7,513.4 L1324.3,511.1 L1325.0,508.8 L1325.7,506.5 L1326.4,504.2 L1327.0,501.9 L1327.7,499.6 L1328.4,497.3 L1329.1,495.1 L1329.9,492.8 L1330.6,490.5 L1331.3,488.2 L1332.0,486.0 L1332.8,483.7 L1333.5,481.4 L1334.3,479.2 L1335.0,476.9 L1335.8,474.7 L1336.6,472.4 L1337.4,470.2 L1338.2,467.9 L1339.0,465.7 L1339.8,463.5 L1340.6,461.2 L1341.5,459.0 L1342.3,456.8 L1343.2,454.5 L1344.0,452.3 L1344.9,450.1 L1345.8,447.9 L1346.7,445.7 L1347.6,443.5 L1348.5,441.3 L1349.4,439.1 L1350.4,436.9 L1351.3,434.7 L1352.3,432.5 L1353.2,430.3 L1354.2,428.1 L1355.2,426.0 L1356.2,423.8 L1357.2,421.6 L1358.3,419.5 L1359.3,417.3 L1360.4,415.2 L1361.5,413.0 L1362.6,410.9 L1363.7,408.7 L1364.8,406.6 L1365.9,404.5 L1367.0,402.3 L1368.2,400.2 L1369.4,398.1 L1370.6,396.0 L1373.4,391.5 Q1375.8,387.9 1379.4,384.4 L1392.5,371.8 Q1396.1,368.3 1400.4,365.8 L1408.2,361.4 Q1412.5,358.9 1417.3,357.6 L1468.0,343.9" stroke="#3333ff" stroke-width="7.0"/>
</g>
<g fill="#000" stroke="none">
<rect x="218" y="148" width="6" height="1142"/>
<path d="M218,1283 H1469 V1288.6 Q1469,1290 1467.6,1290 H218 Z"/>
<rect x="221" y="1211.50" width="19.9" height="3.4" rx="1.3" ry="1.3"/>
<rect x="221" y="1138.30" width="19.9" height="3.4" rx="1.3" ry="1.3"/>
<rect x="221" y="1065.10" width="19.9" height="3.4" rx="1.3" ry="1.3"/>
<rect x="221" y="991.90" width="19.9" height="3.4" rx="1.3" ry="1.3"/>
<rect x="221" y="917.00" width="33.1" height="7" rx="2" ry="2"/>
<rect x="221" y="845.50" width="19.9" height="3.4" rx="1.3" ry="1.3"/>
<rect x="221" y="772.30" width="19.9" height="3.4" rx="1.3" ry="1.3"/>
<rect x="221" y="699.10" width="19.9" height="3.4" rx="1.3" ry="1.3"/>
<rect x="221" y="625.90" width="19.9" height="3.4" rx="1.3" ry="1.3"/>
<rect x="221" y="551.00" width="33.1" height="7" rx="2" ry="2"/>
<rect x="221" y="479.50" width="19.9" height="3.4" rx="1.3" ry="1.3"/>
<rect x="221" y="406.30" width="19.9" height="3.4" rx="1.3" ry="1.3"/>
<rect x="221" y="333.10" width="19.9" height="3.4" rx="1.3" ry="1.3"/>
<rect x="221" y="259.90" width="19.9" height="3.4" rx="1.3" ry="1.3"/>
<rect x="221" y="185.00" width="33.1" height="7" rx="2" ry="2"/>
<path d="M467,1286 V1256 Q467,1254 469,1254 H472 Q474,1254 474,1256 V1286 Z"/>
<path d="M715,1286 V1256 Q715,1254 717,1254 H720 Q722,1254 722,1256 V1286 Z"/>
<path d="M964,1286 V1256 Q964,1254 966,1254 H969 Q971,1254 971,1256 V1286 Z"/>
<path d="M1213,1286 V1256 Q1213,1254 1215,1254 H1217 Q1219,1254 1219,1256 V1286 Z"/>
<path d="M1462,1286 V1256 Q1462,1254 1464,1254 H1467 Q1469,1254 1469,1256 V1286 Z"/>
<rect x="344.10" y="1267" width="3.8" height="19" rx="1.3" ry="1.3"/>
<rect x="592.70" y="1267" width="3.8" height="19" rx="1.3" ry="1.3"/>
<rect x="841.50" y="1267" width="3.8" height="19" rx="1.3" ry="1.3"/>
<rect x="1090.20" y="1267" width="3.8" height="19" rx="1.3" ry="1.3"/>
<rect x="1339.00" y="1267" width="3.8" height="19" rx="1.3" ry="1.3"/>
</g>
<g fill="none" stroke-linecap="round">
<path d="M284.85,204.5 H484.25" stroke="#000" stroke-width="7.5" stroke-dasharray="25.3 33.8"/>
<path d="M285.3,293.6 H483.8" stroke="#000" stroke-width="8.4" stroke-dasharray="39 22.5 4.5 23.1"/>
<path d="M284.4,381.6 H484.7" stroke="#3333ff" stroke-width="6.6"/>
</g>
<g fill="#000" aria-label="Scale multiplier">
<text transform="translate(47.62,118.31) scale(0.9353,1.7067)" font-family="'Liberation Serif', 'Times New Roman', Times, serif" font-size="77">[</text>
<text transform="translate(52.69,131.90) scale(1.0639,1.0892)" font-family="'Liberation Serif', 'Times New Roman', Times, serif" font-size="96" stroke="#fff" stroke-width="1.4" stroke-linejoin="round">×</text>
<text transform="translate(105.24,117.63) scale(0.9700,1.0288)" font-family="'Liberation Serif', 'Times New Roman', Times, serif" font-size="77" dx="0 1.64">10</text>
<text transform="translate(181.09,98.58) scale(1.0839,1.6889)" font-family="'Liberation Serif', 'Times New Roman', Times, serif" font-size="50">−</text>
<text transform="translate(208.84,82.70) scale(0.8709,1.0063)" font-family="'Liberation Serif', 'Times New Roman', Times, serif" font-size="47.5">3</text>
<text transform="translate(237.43,118.31) scale(0.9333,1.7067)" font-family="'Liberation Serif', 'Times New Roman', Times, serif" font-size="77">]</text>
</g>
<g fill="#000" aria-label="Y tick labels">
<text transform="translate(123.57,213.26) scale(0.9699,0.9843)" font-family="'Liberation Sans', Arial, Helvetica, sans-serif" font-size="77.25" dx="0 -1.64">15</text>
<g transform="translate(123.57,213.26) scale(0.9699,0.9843)" fill="#fff"><rect x="3.77" y="-12.45" width="15.65" height="14.33"/><rect x="26.25" y="-12.45" width="15.24" height="14.33"/></g>
<text transform="translate(123.79,580.25) scale(0.9568,0.9936)" font-family="'Liberation Sans', Arial, Helvetica, sans-serif" font-size="77.25" dx="0 -1.01">10</text>
<g transform="translate(123.79,580.25) scale(0.9568,0.9936)" fill="#fff"><rect x="3.77" y="-12.45" width="15.65" height="14.33"/><rect x="26.25" y="-12.45" width="15.24" height="14.33"/></g>
<text transform="translate(163.65,946.36) scale(0.9699,0.9833)" font-family="'Liberation Sans', Arial, Helvetica, sans-serif" font-size="77.25">5</text>
<text transform="translate(164.59,1312.16) scale(0.9351,0.9826)" font-family="'Liberation Sans', Arial, Helvetica, sans-serif" font-size="77.25">0</text>
</g>
<g fill="#000" aria-label="X tick labels">
<text transform="translate(169.87,1352.26) scale(0.9441,0.9881)" font-family="'Liberation Sans', Arial, Helvetica, sans-serif" font-size="77.25">0.4</text>
<text transform="translate(397.93,1352.26) scale(0.9582,0.9881)" font-family="'Liberation Sans', Arial, Helvetica, sans-serif" font-size="77.25">0.42</text>
<text transform="translate(646.63,1352.26) scale(0.9566,0.9881)" font-family="'Liberation Sans', Arial, Helvetica, sans-serif" font-size="77.25">0.44</text>
<text transform="translate(894.50,1352.26) scale(0.9653,0.9881)" font-family="'Liberation Sans', Arial, Helvetica, sans-serif" font-size="77.25">0.46</text>
<text transform="translate(1143.61,1352.26) scale(0.9639,0.9881)" font-family="'Liberation Sans', Arial, Helvetica, sans-serif" font-size="77.25">0.48</text>
<text transform="translate(1413.83,1352.26) scale(0.9560,0.9881)" font-family="'Liberation Sans', Arial, Helvetica, sans-serif" font-size="77.25">0.5</text>
</g>
<g fill="#000" aria-label="Legend 1">
<text transform="translate(507.03,223.79) scale(1.0109,1.0243)" font-family="'Liberation Serif', 'Times New Roman', Times, serif" font-size="61.6">Realizable</text>
<text transform="translate(787.96,223.10) scale(1.1094,1.0105)" font-family="'Liberation Serif', 'Times New Roman', Times, serif" font-size="61.6" font-style="italic">k</text>
<text transform="translate(826.43,228.37) scale(1.1235,1.0667)" font-family="'Liberation Serif', 'Times New Roman', Times, serif" font-size="61.6">−</text>
<text transform="translate(870.58,223.11) scale(0.9783,0.9763)" font-family="'Liberation Serif', 'Times New Roman', Times, serif" font-size="61.6" font-style="italic">ε</text>
</g>
<g fill="#000" aria-label="Legend 2">
<text transform="translate(506.38,316.87) scale(0.9935,1.0570)" font-family="'Liberation Serif', 'Times New Roman', Times, serif" font-size="61.6">SST</text>
<text transform="translate(630.41,316.50) scale(1.0792,1.0246)" font-family="'Liberation Serif', 'Times New Roman', Times, serif" font-size="61.6" font-style="italic">k</text>
<text transform="translate(668.98,321.17) scale(1.1409,1.0667)" font-family="'Liberation Serif', 'Times New Roman', Times, serif" font-size="61.6">−</text>
<text transform="translate(715.10,315.93) scale(1.0642,1.0678)" font-family="'Liberation Serif', 'Times New Roman', Times, serif" font-size="61.6" font-style="italic" stroke="#000" stroke-width="1.0" stroke-linejoin="round">ω</text>
</g>
<g fill="#000" aria-label="Legend 3">
<text transform="translate(504.01,402.78) scale(0.9866,1.0473)" font-family="'Liberation Serif', 'Times New Roman', Times, serif" font-size="61.6">SST</text>
<text transform="translate(627.10,402.40) scale(1.0868,1.0199)" font-family="'Liberation Serif', 'Times New Roman', Times, serif" font-size="61.6" font-style="italic">k</text>
<text transform="translate(665.31,408.07) scale(1.1304,1.0667)" font-family="'Liberation Serif', 'Times New Roman', Times, serif" font-size="61.6">−</text>
<text transform="translate(710.80,402.22) scale(1.0642,1.0810)" font-family="'Liberation Serif', 'Times New Roman', Times, serif" font-size="61.6" font-style="italic" stroke="#000" stroke-width="1.0" stroke-linejoin="round">ω</text>
<text transform="translate(755.31,408.07) scale(1.1304,1.0667)" font-family="'Liberation Serif', 'Times New Roman', Times, serif" font-size="61.6">−</text>
<text transform="translate(800.20,401.67) scale(1.1213,1.0395)" font-family="'Liberation Serif', 'Times New Roman', Times, serif" font-size="61.6" font-style="italic" stroke="#000" stroke-width="1.0" stroke-linejoin="round">φ</text>
<text transform="translate(842.53,408.07) scale(1.1235,1.0667)" font-family="'Liberation Serif', 'Times New Roman', Times, serif" font-size="61.6">−</text>
<text transform="translate(887.26,402.24) scale(1.2338,1.0590)" font-family="'Liberation Serif', 'Times New Roman', Times, serif" font-size="61.6" font-style="italic" stroke="#000" stroke-width="1.0" stroke-linejoin="round">α</text>
</g>
<g fill="#000" aria-label="X axis title">
<text transform="translate(777.17,1445.70) scale(1.1156,0.9497)" font-family="'Liberation Serif', 'Times New Roman', Times, serif" font-size="78" font-style="italic">r</text>
<text transform="translate(821.00,1446.21) scale(1.0326,1.0545)" font-family="'Liberation Serif', 'Times New Roman', Times, serif" font-size="78">/</text>
<text transform="translate(855.65,1445.45) scale(1.0018,0.9873)" font-family="'Liberation Serif', 'Times New Roman', Times, serif" font-size="78" font-style="italic">D</text>
</g>
<g fill="#000" aria-label="Y axis title">
<text transform="translate(103.62,946.23) rotate(-90) scale(1.1329,1.0364)" font-family="'Liberation Serif', 'Times New Roman', Times, serif" font-size="82" font-style="italic">S</text>
<text transform="translate(71.70,899.83) rotate(-90) scale(1.0971,0.9437)" font-family="'Liberation Serif', 'Times New Roman', Times, serif" font-size="68" font-style="italic">‴</text>
<text transform="translate(124.07,900.90) rotate(-90) scale(1.0500,1.0412)" font-family="'Liberation Serif', 'Times New Roman', Times, serif" font-size="50" font-style="italic">gen</text>
<text transform="translate(123.88,827.92) rotate(-90) scale(0.8133,0.7760)" font-family="'Liberation Serif', 'Times New Roman', Times, serif" font-size="50" font-style="italic">,</text>
<text transform="translate(124.76,813.11) rotate(-90) scale(1.0147,1.0126) skewX(-17)" font-family="'Liberation Serif', 'Times New Roman', Times, serif" font-size="52" font-style="italic">f</text>
<text transform="translate(103.61,766.86) rotate(-90) scale(1.0750,0.9936)" font-family="'Liberation Serif', 'Times New Roman', Times, serif" font-size="78">(</text>
<text transform="translate(103.95,738.05) rotate(-90) scale(0.9395,1.0010)" font-family="'Liberation Serif', 'Times New Roman', Times, serif" font-size="78">W</text>
<text transform="translate(104.41,667.00) rotate(-90) scale(1.0279,1.0574)" font-family="'Liberation Serif', 'Times New Roman', Times, serif" font-size="78">/</text>
<text transform="translate(104.10,644.80) rotate(-90) scale(0.9697,0.9878)" font-family="'Liberation Serif', 'Times New Roman', Times, serif" font-size="78">m</text>
<text transform="translate(71.70,585.59) rotate(-90) scale(0.9404,1.0039)" font-family="'Liberation Serif', 'Times New Roman', Times, serif" font-size="57">3</text>
<text transform="translate(104.10,557.90) rotate(-90) scale(1.0235,1.0000)" font-family="'Liberation Serif', 'Times New Roman', Times, serif" font-size="78">K</text>
<text transform="translate(103.64,501.55) rotate(-90) scale(1.0600,0.9915)" font-family="'Liberation Serif', 'Times New Roman', Times, serif" font-size="78">)</text>
</g>
</svg>
</body></html>
